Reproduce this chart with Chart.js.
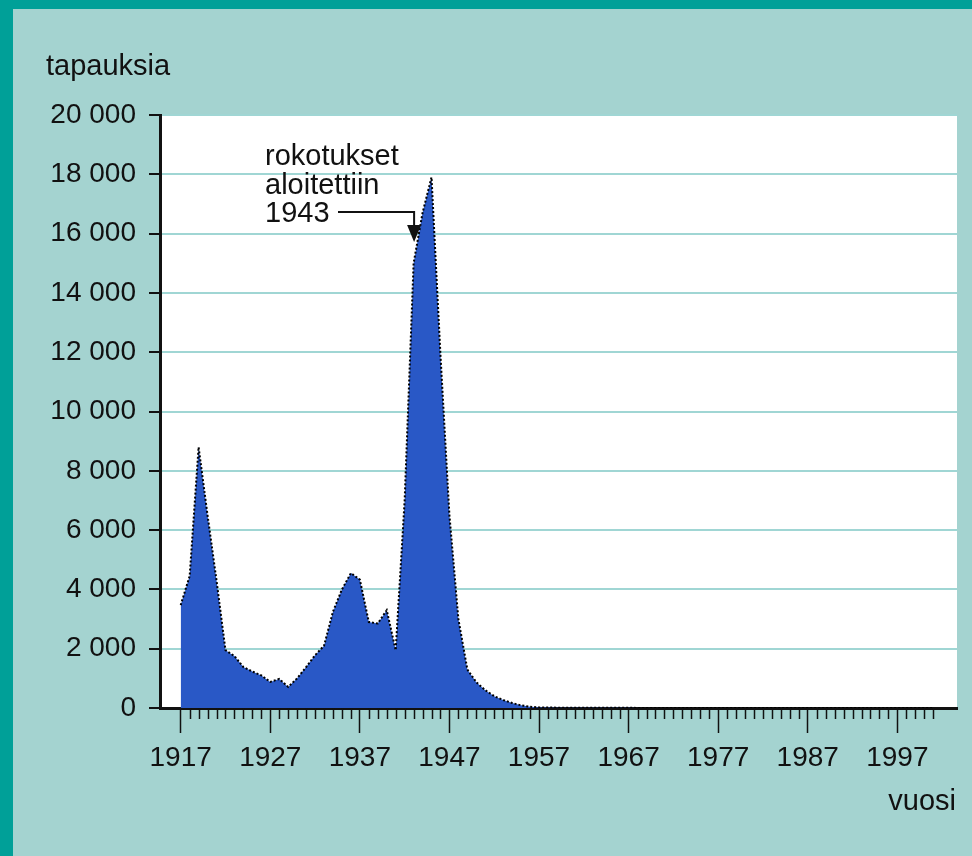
<!DOCTYPE html>
<html>
<head>
<meta charset="utf-8">
<script src="https://cdn.jsdelivr.net/npm/chart.js@4.4.1/dist/chart.umd.min.js"></script>
<style>
html,body{margin:0;padding:0;background:#a4d3d0;}
canvas{display:block;}
</style>
</head>
<body>
<canvas id="c" width="972" height="856"></canvas>
<script>
// ---- data ----
const years = [1917,1918,1919,1920,1921,1922,1923,1924,1925,1926,1927,1928,1929,1930,1931,1932,1933,1934,1935,1936,1937,1938,1939,1940,1941,1942,1943,1944,1945,1946,1947,1948,1949,1950,1951,1952,1953,1954,1955,1956,1957,1958,1959,1960,1961,1962,1963,1964,1965,1966,1967,1968,1969,1970,1971,1972,1973,1974,1975,1976,1977,1978,1979,1980,1981,1982,1983,1984,1985,1986,1987,1988,1989,1990,1991,1992,1993,1994,1995,1996,1997,1998,1999,2000,2001];
const cases = [3470,4450,8800,6500,4300,1950,1750,1380,1230,1100,880,980,710,1000,1380,1780,2100,3250,4000,4550,4330,2900,2850,3300,1950,7000,15000,16700,17900,11900,6500,3000,1300,870,600,400,270,170,90,40,20,15,12,10,10,8,8,6,6,5,5,4,4,3,3,3,2,2,2,2,1,1,1,1,1,1,1,1,1,1,1,1,1,1,1,1,1,1,1,1,1,1,1,1,1];
const yTicks = [0,2000,4000,6000,8000,10000,12000,14000,16000,18000,20000];
const majorYears = [1917,1927,1937,1947,1957,1967,1977,1987,1997];
const yTitle = 'tapauksia';
const xTitle = 'vuosi';
const noteLines = ['rokotukset','aloitettiin','1943'];
const noteYear = 1943;

const FONT = "'Liberation Sans', Arial, Helvetica, sans-serif";
const fmt = v => String(v).replace(/\B(?=(\d{3})+(?!\d))/g, ' ');

const bgPlugin = {
  id: 'bg',
  beforeDraw(chart) {
    const {ctx, chartArea: a} = chart;
    ctx.save();
    ctx.fillStyle = '#00a098';
    ctx.fillRect(0, 0, chart.width, chart.height);
    ctx.fillStyle = '#a4d3d0';
    ctx.fillRect(13, 9, chart.width - 13, chart.height - 9);
    ctx.fillStyle = '#ffffff';
    ctx.fillRect(a.left, a.top, a.right - a.left, a.bottom - a.top);
    ctx.restore();
  },
  afterDraw(chart) {
    const {ctx, chartArea: a} = chart;
    const xs = chart.scales.x;
    ctx.save();
    // minor ticks
    ctx.strokeStyle = '#111';
    ctx.lineWidth = 1.5;
    years.forEach(y => {
      if (majorYears.includes(y)) return;
      const px = Math.round(xs.getPixelForValue(y)) + 0.5;
      ctx.beginPath();
      ctx.moveTo(px, a.bottom);
      ctx.lineTo(px, a.bottom + 11);
      ctx.stroke();
    });
    // titles
    ctx.fillStyle = '#111';
    ctx.font = '29px ' + FONT;
    ctx.textBaseline = 'alphabetic';
    ctx.textAlign = 'left';
    ctx.fillText(yTitle, 46, 75);
    ctx.textAlign = 'right';
    ctx.fillText(xTitle, 956, 810);
    // annotation
    ctx.textAlign = 'left';
    ctx.fillText(noteLines[0], 265, 165);
    ctx.fillText(noteLines[1], 265, 194);
    ctx.fillText(noteLines[2], 265, 222);
    const ax = xs.getPixelForValue(noteYear) + 0.5;
    ctx.lineWidth = 2;
    ctx.beginPath();
    ctx.moveTo(338, 212);
    ctx.lineTo(ax, 212);
    ctx.lineTo(ax, 226);
    ctx.stroke();
    ctx.beginPath();
    ctx.moveTo(ax - 7, 225);
    ctx.lineTo(ax + 7, 225);
    ctx.lineTo(ax, 242);
    ctx.closePath();
    ctx.fill();
    ctx.restore();
  }
};

new Chart(document.getElementById('c'), {
  type: 'line',
  data: {
    datasets: [{
      data: years.map((y, i) => ({x: y, y: cases[i]})),
      fill: 'origin',
      backgroundColor: '#2958c6',
      borderColor: '#000',
      borderWidth: 2,
      borderDash: [2, 2],
      pointRadius: 0,
      tension: 0
    }]
  },
  options: {
    responsive: false,
    animation: false,
    events: [],
    layout: {padding: {top: 115, right: 15, left: 0, bottom: 0}},
    plugins: {legend: {display: false}, tooltip: {enabled: false}},
    scales: {
      x: {
        type: 'linear',
        min: 1914.69,
        max: 2003.66,
        afterFit(s) { s.height = 148; },
        afterBuildTicks(s) { s.ticks = years.map(v => ({value: v})); },
        border: {display: true, color: '#111', width: 3},
        grid: {
          drawOnChartArea: false,
          drawTicks: true,
          tickLength: 25,
          tickWidth: 1.5,
          tickColor: c => (c.tick && majorYears.includes(c.tick.value)) ? '#111' : 'rgba(0,0,0,0)'
        },
        ticks: {
          autoSkip: false,
          maxRotation: 0,
          padding: 8,
          color: '#111',
          font: {family: FONT, size: 28},
          callback: v => majorYears.includes(v) ? String(v) : ''
        }
      },
      y: {
        type: 'linear',
        min: 0,
        max: 20000,
        afterFit(s) { s.width = 160; },
        afterBuildTicks(s) { s.ticks = yTicks.map(v => ({value: v})); },
        border: {display: true, color: '#111', width: 3},
        grid: {
          color: '#a0d6d4',
          lineWidth: 2,
          drawTicks: true,
          tickLength: 11,
          tickColor: '#111',
          tickWidth: 2
        },
        ticks: {
          padding: 13,
          color: '#111',
          font: {family: FONT, size: 28},
          callback: v => fmt(v)
        }
      }
    }
  },
  plugins: [bgPlugin]
});
</script>
</body>
</html>
